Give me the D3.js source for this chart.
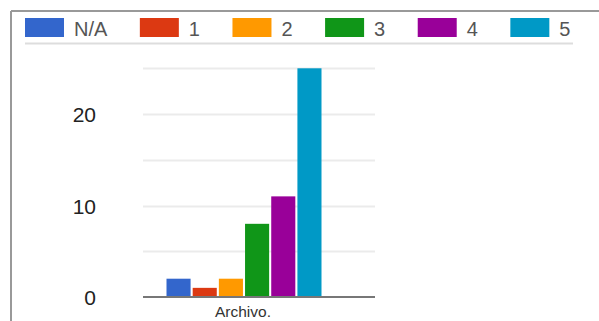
<!DOCTYPE html>
<html>
<head>
<meta charset="utf-8">
<script src="https://cdn.jsdelivr.net/npm/d3@7"></script>
<style>
  html, body { margin: 0; padding: 0; background: #fff; }
  svg { display: block; font-family: "Liberation Sans", Arial, sans-serif; }
</style>
</head>
<body>
<svg id="chart" width="599" height="321"></svg>
<script>
// Responses per rating for the single question
const categories = ["Archivo."];
const seriesNames = ["N/A", "1", "2", "3", "4", "5"];
const seriesValues = [2, 1, 2, 8, 11, 25];
const seriesColors = ["#3366cc", "#dc3912", "#ff9900", "#109618", "#990099", "#0099c6"];
const gridTicks = [0, 5, 10, 15, 20, 25];
const labelTicks = [0, 10, 20];

const svg = d3.select("#chart");

// Outer frame (top and left edges visible)
svg.append("line").attr("x1", 11).attr("x2", 599).attr("y1", 11).attr("y2", 11)
  .attr("stroke", "#999").attr("stroke-width", 2);
svg.append("line").attr("x1", 11).attr("x2", 11).attr("y1", 11).attr("y2", 321)
  .attr("stroke", "#999").attr("stroke-width", 2);

// Legend
const legend = svg.append("g");
let lx = 25;
seriesNames.forEach((name, i) => {
  const g = legend.append("g").attr("transform", `translate(${lx},0)`);
  g.append("rect").attr("x", 0).attr("y", 18).attr("width", 39).attr("height", 19)
    .attr("fill", seriesColors[i]);
  const t = g.append("text").attr("x", 49).attr("y", 36)
    .attr("font-size", 20).attr("fill", "#555").text(name);
  lx += 49 + t.node().getComputedTextLength() + 32.5;
});
svg.append("line").attr("x1", 25).attr("x2", 573).attr("y1", 43.5).attr("y2", 43.5)
  .attr("stroke", "#ddd").attr("stroke-width", 2);

// Scales
const plotLeft = 143, plotRight = 375;
const y = d3.scaleLinear().domain([0, 25]).range([297, 68.3]);
const x0 = d3.scaleBand().domain(categories).range([166.5, 321.5]);
const x1 = d3.scaleBand().domain(seriesNames).range([0, x0.bandwidth()]).paddingInner(0.08);

// Gridlines
svg.append("g").selectAll("line").data(gridTicks.filter(d => d > 0)).join("line")
  .attr("x1", plotLeft).attr("x2", plotRight)
  .attr("y1", d => Math.round(y(d)) + 0.5).attr("y2", d => Math.round(y(d)) + 0.5)
  .attr("stroke", "#ebebeb").attr("stroke-width", 2);

// Y axis labels
const yAxis = d3.axisLeft(y).tickValues(labelTicks).tickSize(0).tickPadding(0);
const yg = svg.append("g").attr("transform", "translate(96,1)").call(yAxis);
yg.select(".domain").remove();
yg.selectAll("text").attr("font-size", 21).attr("fill", "#222")
  .attr("font-family", "'Liberation Sans', Arial, sans-serif");

// Bars
const group = svg.append("g").selectAll("g").data(categories).join("g")
  .attr("transform", d => `translate(${x0(d)},0)`);
group.selectAll("rect")
  .data(seriesNames.map((s, i) => ({ s, v: seriesValues[i], c: seriesColors[i] })))
  .join("rect")
  .attr("x", d => x1(d.s))
  .attr("width", x1.bandwidth())
  .attr("y", d => y(d.v))
  .attr("height", d => y(0) - y(d.v))
  .attr("fill", d => d.c);

// Baseline
svg.append("line").attr("x1", plotLeft).attr("x2", plotRight)
  .attr("y1", y(0)).attr("y2", y(0)).attr("stroke", "#777").attr("stroke-width", 2);

// Category label
svg.append("g").selectAll("text").data(categories).join("text")
  .attr("x", d => x0(d) + x0.bandwidth() / 2 - 1)
  .attr("y", 317)
  .attr("text-anchor", "middle").attr("font-size", 15.5).attr("fill", "#333")
  .text(d => d);
</script>
</body>
</html>
